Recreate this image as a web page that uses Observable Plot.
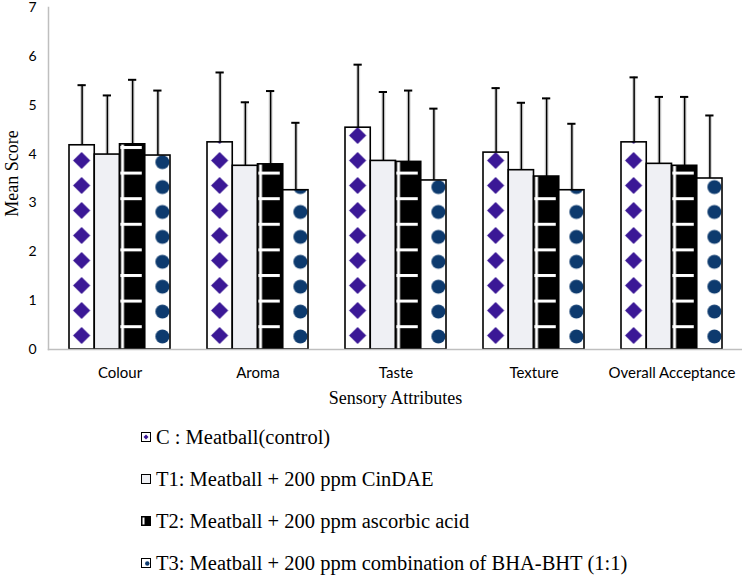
<!DOCTYPE html>
<html><head><meta charset="utf-8">
<script src="https://cdn.jsdelivr.net/npm/d3@7"></script>
<script src="https://cdn.jsdelivr.net/npm/@observablehq/plot@0.6"></script>
<style>
body{margin:0;background:#fff;}
#chart svg{display:block;}
.legend{margin-left:141px;padding-top:6px;font-family:"Liberation Serif",serif;font-size:20.5px;color:#000;}
.legend div{height:42px;display:flex;align-items:center;white-space:nowrap;}
.legend svg{margin-right:5px;flex:none;}
</style></head><body>
<div id="chart"></div>
<div class="legend" id="legend"></div>
<script>
const categories = ["Colour", "Aroma", "Taste", "Texture", "Overall Acceptance"];
const seriesKeys = ["C", "T1", "T2", "T3"];
const seriesLabels = [
  "C : Meatball(control)",
  "T1: Meatball + 200 ppm CinDAE",
  "T2: Meatball + 200 ppm ascorbic acid",
  "T3: Meatball + 200 ppm combination of BHA-BHT (1:1)"
];
const meanC  = [4.18, 4.24, 4.54, 4.03, 4.24];
const meanT1 = [3.99, 3.76, 3.86, 3.67, 3.80];
const meanT2 = [4.20, 3.79, 3.84, 3.54, 3.76];
const meanT3 = [3.97, 3.26, 3.46, 3.26, 3.50];
const sdC  = [1.23, 1.43, 1.29, 1.32, 1.33];
const sdT1 = [1.21, 1.30, 1.41, 1.38, 1.37];
const sdT2 = [1.32, 1.50, 1.46, 1.60, 1.41];
const sdT3 = [1.33, 1.38, 1.47, 1.36, 1.29];
const yTicks = [0, 1, 2, 3, 4, 5, 6, 7];
const yTitle = "Mean Score";
const xTitle = "Sensory Attributes";

const means = {C: meanC, T1: meanT1, T2: meanT2, T3: meanT3};
const sds = {C: sdC, T1: sdT1, T2: sdT2, T3: sdT3};
const data = categories.flatMap((c, i) => seriesKeys.map(s => ({
  category: c, series: s, mean: means[s][i], upper: means[s][i] + sds[s][i]
})));

const W = 742, H = 410, ML = 48, MR = 0, MT = 7, MB = 61;
const xOptions = {type: "band", domain: categories, paddingInner: 0.27, paddingOuter: 0.135, round: true};
const xScale = Plot.scale({x: {...xOptions, range: [ML, W - MR]}});
const sub = xScale.bandwidth / seriesKeys.length; // width of one series bar within a category band

const sansFont = "Lato, 'Open Sans', sans-serif";
const serifFont = "'Liberation Serif', serif";
const seriesFill = {C: "white", T1: "#eff0f4", T2: "black", T3: "white"};

const seriesMarks = seriesKeys.flatMap((s, k) => {
  const rows = data.filter(d => d.series === s);
  const inL = k * sub, inR = (seriesKeys.length - 1 - k) * sub;
  const off = inL + sub / 2 - xScale.bandwidth / 2;
  return [
    Plot.ruleX(rows, {x: "category", y1: "mean", y2: "upper", dx: off, stroke: "#d6d6d6", strokeWidth: 4}),
    Plot.ruleX(rows, {x: "category", y1: "mean", y2: "upper", dx: off, stroke: "black", strokeWidth: 1.5}),
    Plot.tickY(rows, {x: "category", y: "upper", insetLeft: inL + 8.5, insetRight: inR + 8.5, stroke: "black", strokeWidth: 2}),
    Plot.barY(rows, {x: "category", y: "mean", insetLeft: inL, insetRight: inR,
      fill: seriesFill[s], stroke: "black", strokeWidth: 1.6, ariaLabel: d => "bar-" + d.series})
  ];
});

const plot = Plot.plot({
  width: W, height: H,
  marginLeft: ML, marginRight: MR, marginTop: MT, marginBottom: MB,
  x: {...xOptions, label: null},
  y: {domain: [0, 7]},
  marks: [
    ...seriesMarks,
    Plot.frame({anchor: "left", stroke: "#bfbfbf", strokeWidth: 1.5}),
    Plot.frame({anchor: "bottom", stroke: "#bfbfbf", strokeWidth: 1.5}),
    Plot.axisY({ticks: yTicks, tickFormat: d3.format("d"), tickSize: 0, tickPadding: 12,
      fontFamily: sansFont, fontSize: 14, label: null}),
    Plot.axisX({tickSize: 0, tickPadding: 18, fontFamily: sansFont, fontSize: 15, label: null}),
    Plot.text([yTitle], {text: d => d, frameAnchor: "left", rotate: -90, dx: -36, dy: -5,
      textAnchor: "middle", lineAnchor: "middle",
      fontFamily: serifFont, fontSize: 18, fill: "black"}),
    Plot.text([xTitle], {text: d => d, frameAnchor: "bottom", dy: 49,
      textAnchor: "middle", lineAnchor: "middle",
      fontFamily: serifFont, fontSize: 18, fill: "black"})
  ]
});
document.getElementById("chart").appendChild(plot);

// pattern fills, anchored to each bar drawn by Plot
const NS = "http://www.w3.org/2000/svg";
const svg = plot.tagName.toLowerCase() === "svg" ? plot : plot.querySelector("svg");
const defs = document.createElementNS(NS, "defs");
svg.insertBefore(defs, svg.firstChild);
function el(tag, attrs, parent) {
  const e = document.createElementNS(NS, tag);
  for (const k in attrs) e.setAttribute(k, attrs[k]);
  if (parent) parent.appendChild(e);
  return e;
}
let pid = 0;
for (const s of ["C", "T2", "T3"]) {
  svg.querySelectorAll(`[aria-label="bar-${s}"]`).forEach(r => {
    const x = +r.getAttribute("x"), y = +r.getAttribute("y");
    const w = +r.getAttribute("width"), h = +r.getAttribute("height");
    const bottom = y + h;
    const id = "pat" + (pid++);
    let P, py;
    if (s === "C") { P = 25; py = bottom - 13.5 - P / 2; }
    else if (s === "T2") { P = 25.6; py = bottom - 22.3 - 1.5; }
    else { P = 24.9; py = bottom - 12.5 - P / 2; }
    const pat = el("pattern", {id, patternUnits: "userSpaceOnUse", x, y: py, width: w, height: P}, defs);
    if (s === "C") {
      el("rect", {x: 0, y: 0, width: w, height: P, fill: "white"}, pat);
      const cx = w / 2, cy = P / 2, a = 8.6;
      el("polygon", {points: `${cx},${cy - a} ${cx + a},${cy} ${cx},${cy + a} ${cx - a},${cy}`, fill: "#3b1896"}, pat);
    } else if (s === "T2") {
      el("rect", {x: 0, y: 0, width: w, height: P, fill: "black"}, pat);
      el("rect", {x: 1.5, y: 0, width: 3, height: P, fill: "white"}, pat);
      el("rect", {x: 0, y: 0, width: w - 3, height: 3, fill: "white"}, pat);
    } else {
      el("rect", {x: 0, y: 0, width: w, height: P, fill: "white"}, pat);
      el("circle", {cx: w * 0.7, cy: P / 2, r: 7, fill: "#0d3a6e"}, pat);
    }
    r.setAttribute("fill", `url(#${id})`);
  });
}

// legend below the chart
const legend = document.getElementById("legend");
const swatch = {
  C: `<rect x="0.5" y="0.5" width="9" height="9" fill="white" stroke="black"/><polygon points="5,2.5 7.5,5 5,7.5 2.5,5" fill="#3b1896"/>`,
  T1: `<rect x="0.5" y="0.5" width="9" height="9" fill="#eff0f4" stroke="black"/>`,
  T2: `<rect x="0.5" y="0.5" width="9" height="9" fill="black" stroke="black"/><rect x="1.5" y="1.5" width="2" height="7" fill="white"/>`,
  T3: `<rect x="0.5" y="0.5" width="9" height="9" fill="white" stroke="black"/><circle cx="6.3" cy="5.5" r="2.2" fill="#0d3a6e"/>`
};
seriesKeys.forEach((s, i) => {
  const row = document.createElement("div");
  row.innerHTML = `<svg width="10" height="10" viewBox="0 0 10 10">${swatch[s]}</svg><span>${seriesLabels[i]}</span>`;
  legend.appendChild(row);
});
</script>
</body></html>
